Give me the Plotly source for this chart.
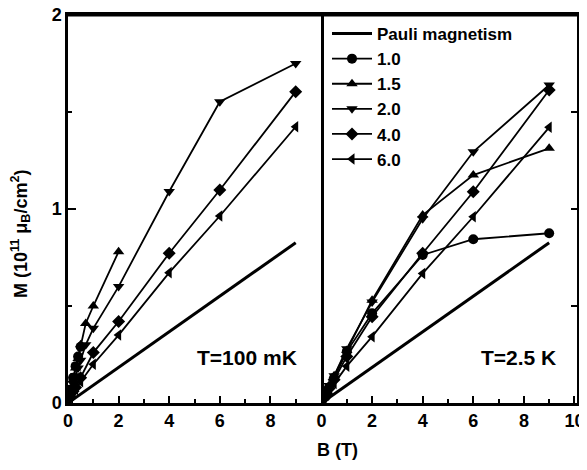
import plotly.graph_objects as go

# ---------------- data ----------------
pauli_B = [0, 9]
pauli_M = [0, 0.826]

# T = 100 mK panel
L10_B = [0.1, 0.2, 0.3, 0.4, 0.5]
L10_M = [0.07, 0.13, 0.19, 0.24, 0.29]
L15_B = [0.1, 0.2, 0.3, 0.4, 0.5, 0.7, 1.0, 2.0]
L15_M = [0.06, 0.12, 0.18, 0.23, 0.30, 0.41, 0.50, 0.78]
L20_B = [0.1, 0.2, 0.3, 0.4, 0.5, 0.7, 1.0, 2.0, 4.0, 6.0, 9.0]
L20_M = [0.05, 0.10, 0.14, 0.18, 0.22, 0.30, 0.385, 0.60, 1.09, 1.553, 1.75]
L40_B = [0.1, 0.2, 0.3, 0.5, 1.0, 2.0, 4.0, 6.0, 9.0]
L40_M = [0.03, 0.06, 0.08, 0.13, 0.26, 0.42, 0.772, 1.098, 1.605]
L60_B = [0.1, 0.2, 0.3, 0.5, 1.0, 2.0, 4.0, 6.0, 9.0]
L60_M = [0.025, 0.05, 0.07, 0.11, 0.20, 0.35, 0.672, 0.964, 1.424]

# T = 2.5 K panel
R10_B = [0.1, 0.2, 0.3, 0.5, 1.0, 2.0, 4.0, 6.0, 9.0]
R10_M = [0.03, 0.06, 0.08, 0.13, 0.265, 0.462, 0.763, 0.844, 0.875]
R15_B = [0.1, 0.2, 0.3, 0.5, 1.0, 2.0, 4.0, 6.0, 9.0]
R15_M = [0.03, 0.06, 0.09, 0.14, 0.27, 0.53, 0.969, 1.175, 1.313]
R20_B = [0.1, 0.2, 0.3, 0.5, 1.0, 2.0, 4.0, 6.0, 9.0]
R20_M = [0.03, 0.06, 0.09, 0.14, 0.28, 0.52, 0.95, 1.295, 1.639]
R40_B = [0.1, 0.2, 0.3, 0.5, 1.0, 2.0, 4.0, 6.0, 9.0]
R40_M = [0.025, 0.05, 0.075, 0.12, 0.24, 0.445, 0.772, 1.089, 1.613]
R60_B = [0.1, 0.2, 0.3, 0.5, 1.0, 2.0, 4.0, 6.0, 9.0]
R60_M = [0.02, 0.04, 0.06, 0.10, 0.19, 0.342, 0.668, 0.96, 1.421]

names = ["1.0", "1.5", "2.0", "4.0", "6.0"]
symbols = ["circle", "triangle-up", "triangle-down", "diamond", "triangle-left"]
left_sets = [(L10_B, L10_M), (L15_B, L15_M), (L20_B, L20_M), (L40_B, L40_M), (L60_B, L60_M)]
right_sets = [(R10_B, R10_M), (R15_B, R15_M), (R20_B, R20_M), (R40_B, R40_M), (R60_B, R60_M)]

FONT = "Liberation Sans, Arial, sans-serif"
BLACK = "#000000"

fig = go.Figure()

fig.add_trace(go.Scatter(x=pauli_B, y=pauli_M, mode="lines", line=dict(color=BLACK, width=3),
                         xaxis="x", yaxis="y", showlegend=False, name="Pauli magnetism"))
fig.add_trace(go.Scatter(x=pauli_B, y=pauli_M, mode="lines", line=dict(color=BLACK, width=3),
                         xaxis="x2", yaxis="y2", showlegend=True, name="Pauli magnetism"))

for i, (nm, sym) in enumerate(zip(names, symbols)):
    bx, my = left_sets[i]
    fig.add_trace(go.Scatter(x=bx, y=my, mode="lines+markers", name=nm,
                             line=dict(color=BLACK, width=1.8),
                             marker=dict(symbol=sym, size=10, color=BLACK),
                             xaxis="x", yaxis="y", showlegend=False))
    bx, my = right_sets[i]
    fig.add_trace(go.Scatter(x=bx, y=my, mode="lines+markers", name=nm,
                             line=dict(color=BLACK, width=1.8),
                             marker=dict(symbol=sym, size=10, color=BLACK),
                             xaxis="x2", yaxis="y2", showlegend=True))

# the page body has an 8px default margin: the figure sits at (8, 8) in the window
OFF = 8
PL, PR, PT, PB = 68, 577, 15, 403     # plot area in window pixels
W, H = 579, 462
d = (321 - PL) / (PR - PL)

def px_x(px):
    return (px - PL) / (PR - PL)

def px_y(py):
    return (PB - py) / (PB - PT)

axis_common = dict(showline=True, linecolor=BLACK, linewidth=2.5, showgrid=False, zeroline=False,
                   ticks="inside", tickcolor=BLACK, tickwidth=2, ticklabeloverflow="allow",
                   tickfont=dict(family=FONT, size=18, color=BLACK, weight="bold"))
minor_x = dict(tickvals=[1, 3, 5, 7, 9], ticklen=4, ticks="inside", tickcolor=BLACK, tickwidth=2)

fig.update_layout(
    width=W, height=H,
    margin=dict(l=PL - OFF, r=(W + OFF) - PR, t=PT - OFF, b=(H + OFF) - PB, autoexpand=False),
    paper_bgcolor="white", plot_bgcolor="white",
    showlegend=True,
    legend=dict(x=px_x(327), y=px_y(16), xanchor="left", yanchor="top",
                bgcolor="rgba(0,0,0,0)", font=dict(family=FONT, size=17, color=BLACK, weight="bold"),
                itemwidth=40, tracegroupgap=0),
    xaxis=dict(domain=[0, d], range=[0, 10], tickvals=[0, 2, 4, 6, 8], ticklen=7,
               minor=minor_x, mirror=True, anchor="y", **axis_common),
    yaxis=dict(domain=[0, 1], range=[0, 2], tickvals=[0, 1, 2], ticklen=8,
               minor=dict(tickvals=[0.5, 1.5], ticklen=4, ticks="inside", tickcolor=BLACK, tickwidth=2),
               mirror=True, anchor="x", **axis_common),
    xaxis2=dict(domain=[d, 1], range=[-0.02, 10.1], tickvals=[0, 2, 4, 6, 8, 10], ticklen=7,
                minor=minor_x, mirror=True, anchor="y2", **axis_common),
    yaxis2=dict(domain=[0, 1], range=[0, 2], tickvals=[0.5, 1, 1.5], ticklen=6, side="right",
                showticklabels=False, mirror=False, anchor="x2", **axis_common),
)

# top frame line of the plot box (drawn as a filled band so it stays visible)
fig.add_shape(type="rect", xref="paper", yref="paper", x0=0, x1=1,
              y0=px_y(16.5), y1=px_y(13.5),
              line=dict(width=0), fillcolor=BLACK, layer="above")

fig.add_annotation(text="M (10<sup>11</sup> μ<sub>B</sub>/cm<sup>2</sup>)", textangle=-90,
                   xref="paper", yref="paper", x=px_x(20), y=px_y(234),
                   showarrow=False, xanchor="center", yanchor="middle",
                   font=dict(family=FONT, size=18, color=BLACK, weight="bold"))
fig.add_annotation(text="B (T)", xref="paper", yref="paper",
                   x=px_x(337), y=px_y(450), showarrow=False,
                   xanchor="center", yanchor="middle",
                   font=dict(family=FONT, size=18, color=BLACK, weight="bold"))
fig.add_annotation(text="T=100 mK", xref="paper", yref="paper", x=px_x(299), y=px_y(357),
                   showarrow=False, xanchor="right", yanchor="middle",
                   font=dict(family=FONT, size=21, color=BLACK, weight="bold"))
fig.add_annotation(text="T=2.5 K", xref="paper", yref="paper", x=px_x(558), y=px_y(357),
                   showarrow=False, xanchor="right", yanchor="middle",
                   font=dict(family=FONT, size=21, color=BLACK, weight="bold"))

fig.write_html("out.html")
